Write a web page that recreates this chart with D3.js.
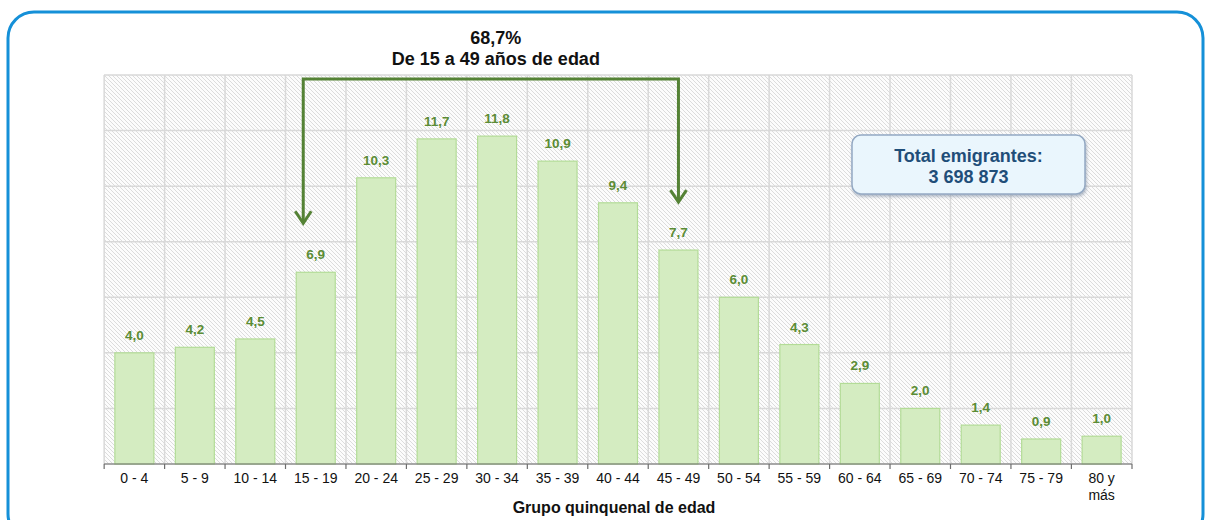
<!DOCTYPE html>
<html>
<head>
<meta charset="utf-8">
<script src="https://cdn.jsdelivr.net/npm/d3@7"></script>
<style>
  body { margin: 0; background: #fff; }
  text { font-family: Arial, "Liberation Sans", sans-serif; }
</style>
</head>
<body>
<div id="chart"></div>
<script>
// age groups and share of emigrants (%)
let ageGroups = ["0 - 4", "5 - 9", "10 - 14", "15 - 19", "20 - 24", "25 - 29", "30 - 34", "35 - 39",
    "40 - 44", "45 - 49", "50 - 54", "55 - 59", "60 - 64", "65 - 69", "70 - 74", "75 - 79", "80 y|más"];
let shares = [4.0, 4.2, 4.5, 6.9, 10.3, 11.7, 11.8, 10.9, 9.4, 7.7, 6.0, 4.3, 2.9, 2.0, 1.4, 0.9, 1.0];
let yTicks = [0, 2, 4, 6, 8, 10, 12, 14];
let bracketGroups = ["15 - 19", "45 - 49"];
let bracketText = ["68,7%", "De 15 a 49 años de edad"];
let totalText = ["Total emigrantes:", "3 698 873"];
let xTitle = "Grupo quinquenal de edad";

let width = 1209;
let height = 520;
let margin = {top: 75, right: 77, bottom: 56, left: 104};
let innerW = width - margin.left - margin.right;
let innerH = height - margin.top - margin.bottom;

let svg = d3.select('#chart')
    .append('svg')
    .attr('width', width)
    .attr('height', height);

let defs = svg.append('defs');
let hatch = defs.append('pattern')
    .attr('id', 'hatch')
    .attr('patternUnits', 'userSpaceOnUse')
    .attr('width', 4)
    .attr('height', 4);
hatch.append('rect').attr('width', 4).attr('height', 4).attr('fill', '#fcfcfc');
hatch.append('path')
    .attr('d', 'M-1,-1 L5,5 M-1,3 L1,5 M3,-1 L5,1')
    .attr('stroke', '#cfcfcf')
    .attr('stroke-width', 0.7);

let shadow = defs.append('filter').attr('id', 'shadow')
    .attr('x', '-10%').attr('y', '-20%').attr('width', '130%').attr('height', '160%');
shadow.append('feDropShadow')
    .attr('dx', 1).attr('dy', 2).attr('stdDeviation', 1.5)
    .attr('flood-color', '#7f8ea3').attr('flood-opacity', 0.6);

// outer blue frame
svg.append('rect')
    .attr('x', 8).attr('y', 12)
    .attr('width', 1195).attr('height', 528)
    .attr('rx', 26)
    .attr('fill', 'none')
    .attr('stroke', '#1590d8')
    .attr('stroke-width', 3);

let g = svg.append('g')
    .attr('transform', 'translate(' + margin.left + ',' + margin.top + ')');

let x = d3.scaleBand()
    .domain(ageGroups)
    .range([0, innerW])
    .paddingInner(0.355)
    .paddingOuter(0.18);

let y = d3.scaleLinear()
    .domain([0, 14])
    .range([innerH, 0]);

let step = x.step();
let bandLeft = (d) => x(d) - x.paddingInner() * step / 2;

// hatched plot area
g.append('rect')
    .attr('width', innerW)
    .attr('height', innerH)
    .attr('fill', 'url(#hatch)');

// horizontal grid
g.selectAll('.hgrid')
    .data(yTicks)
    .enter()
    .append('line')
    .attr('x1', 0).attr('x2', innerW)
    .attr('y1', (d) => y(d)).attr('y2', (d) => y(d))
    .attr('stroke', '#d9d9d9')
    .attr('stroke-width', 1.5);

// vertical grid at category boundaries
let bounds = ageGroups.map(bandLeft).concat([innerW]);
g.selectAll('.vgrid')
    .data(bounds)
    .enter()
    .append('line')
    .attr('x1', (d) => d).attr('x2', (d) => d)
    .attr('y1', 0).attr('y2', innerH)
    .attr('stroke', '#d9d9d9')
    .attr('stroke-width', 1.5);

// bars
g.selectAll('.bar')
    .data(shares)
    .enter()
    .append('rect')
    .attr('x', (d, i) => x(ageGroups[i]))
    .attr('y', (d) => y(d))
    .attr('width', x.bandwidth())
    .attr('height', (d) => innerH - y(d))
    .attr('fill', '#d4ecc1')
    .attr('stroke', '#b3dc97')
    .attr('stroke-width', 1.2);

// value labels
g.selectAll('.lbl')
    .data(shares)
    .enter()
    .append('text')
    .attr('x', (d, i) => x(ageGroups[i]) + x.bandwidth() / 2)
    .attr('y', (d) => y(d) - 13)
    .attr('text-anchor', 'middle')
    .attr('font-size', 13.5)
    .attr('font-weight', 'bold')
    .attr('fill', '#5b8c35')
    .text((d) => d3.format('.1f')(d).replace('.', ','));

// x axis
let axis = g.append('g')
    .attr('transform', 'translate(0,' + innerH + ')');
axis.append('line')
    .attr('x1', 0).attr('x2', innerW)
    .attr('stroke', '#6e6e6e').attr('stroke-width', 1.2);
axis.selectAll('.tick')
    .data(bounds)
    .enter()
    .append('line')
    .attr('x1', (d) => d).attr('x2', (d) => d)
    .attr('y1', 0).attr('y2', 5)
    .attr('stroke', '#6e6e6e').attr('stroke-width', 1.2);

let xl = axis.selectAll('.xl')
    .data(ageGroups)
    .enter()
    .append('text')
    .attr('x', (d) => x(d) + x.bandwidth() / 2)
    .attr('y', 19)
    .attr('text-anchor', 'middle')
    .attr('font-size', 14)
    .attr('fill', '#111');
xl.each(function (d) {
    let parts = d.split('|');
    let t = d3.select(this);
    parts.forEach((p, i) => {
        t.append('tspan')
            .attr('x', x(d) + x.bandwidth() / 2)
            .attr('dy', i === 0 ? 0 : 17)
            .text(p);
    });
});

axis.append('text')
    .attr('x', innerW / 2 - 4)
    .attr('y', 49)
    .attr('text-anchor', 'middle')
    .attr('font-size', 16)
    .attr('font-weight', 'bold')
    .attr('fill', '#111')
    .text(xTitle);

// bracket with arrows
let bx1 = x(bracketGroups[0]) + 7;
let bx2 = x(bracketGroups[1]) + x.bandwidth() / 2;
let by = 4;
let tip1 = y(shares[ageGroups.indexOf(bracketGroups[0])]) - 49;
let tip2 = y(shares[ageGroups.indexOf(bracketGroups[1])]) - 48;
let green = '#548235';

g.append('path')
    .attr('d', 'M' + bx1 + ',' + (tip1 - 2) + ' L' + bx1 + ',' + by + ' L' + bx2 + ',' + by + ' L' + bx2 + ',' + (tip2 - 2))
    .attr('fill', 'none')
    .attr('stroke', green)
    .attr('stroke-width', 3);

[[bx1, tip1], [bx2, tip2]].forEach((p) => {
    g.append('path')
        .attr('d', 'M' + (p[0] - 8) + ',' + (p[1] - 12) + ' L' + p[0] + ',' + p[1] + ' L' + (p[0] + 8) + ',' + (p[1] - 12))
        .attr('fill', 'none')
        .attr('stroke', green)
        .attr('stroke-width', 3);
});

let bt = g.append('text')
    .attr('text-anchor', 'middle')
    .attr('font-size', 18)
    .attr('font-weight', 'bold')
    .attr('fill', '#111');
bracketText.forEach((s, i) => {
    bt.append('tspan')
        .attr('x', (bx1 + bx2) / 2 + 5)
        .attr('y', i === 0 ? -31 : -10)
        .text(s);
});

// total box
let boxX = 852 - margin.left;
let boxY = 135 - margin.top;
g.append('rect')
    .attr('x', boxX).attr('y', boxY)
    .attr('width', 233).attr('height', 59)
    .attr('rx', 9)
    .attr('fill', '#eaf6fd')
    .attr('stroke', '#94a9c3')
    .attr('stroke-width', 1.5)
    .attr('filter', 'url(#shadow)');
let tt = g.append('text')
    .attr('text-anchor', 'middle')
    .attr('font-size', 18)
    .attr('font-weight', 'bold')
    .attr('fill', '#1f4e79');
totalText.forEach((s, i) => {
    tt.append('tspan')
        .attr('x', boxX + 233 / 2)
        .attr('y', boxY + 27 + i * 21)
        .text(s);
});
</script>
</body>
</html>
